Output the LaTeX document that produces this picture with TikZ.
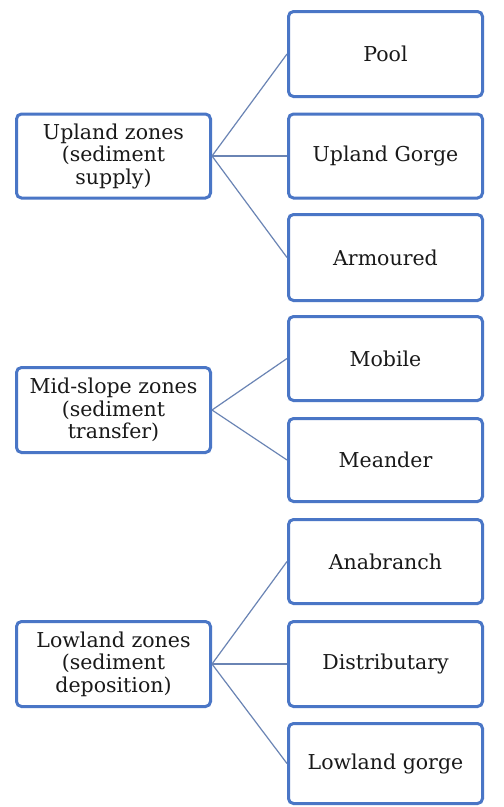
\documentclass[tikz,border=0pt]{standalone}
\usepackage{fontspec}
\setmainfont{DejaVu Serif}
\definecolor{boxblue}{HTML}{4A76C6}
\definecolor{linkblue}{HTML}{6A84B4}
\begin{document}
\begin{tikzpicture}[x=1pt,y=-1pt,
  zbox/.style={draw=boxblue, line width=3pt, rounded corners=5pt, fill=white,
    minimum width=194pt, align=center, inner sep=2pt,
    font=\fontsize{20.5}{22.5}\selectfont, text=black!90},
  link/.style={draw=linkblue, line width=1.2pt}]
\fill[white] (0,0) rectangle (504,807);
\useasboundingbox (0,0) rectangle (504,807);
% left boxes
\node[zbox, minimum height=84pt] (up) at (113.5,156) {Upland zones\\(sediment\\supply)};
\node[zbox, minimum height=85pt] (mid) at (113.5,410) {Mid-slope zones\\(sediment\\transfer)};
\node[zbox, minimum height=85pt] (low) at (113.5,664) {Lowland zones\\(sediment\\deposition)};
% right boxes
\node[zbox, minimum height=85pt] (pool) at (385.5,54) {Pool};
\node[zbox, minimum height=84pt] (gorge) at (385.5,156) {Upland Gorge};
\node[zbox, minimum height=86pt] (arm) at (385.5,257.5) {Armoured};
\node[zbox, minimum height=84pt] (mob) at (385.5,358.5) {Mobile};
\node[zbox, minimum height=83pt] (mea) at (385.5,460) {Meander};
\node[zbox, minimum height=84pt] (ana) at (385.5,561.5) {Anabranch};
\node[zbox, minimum height=85pt] (dis) at (385.5,664) {Distributary};
\node[zbox, minimum height=80pt] (lg) at (385.5,763.5) {Lowland gorge};
% connectors
\draw[link] (up.east) -- (pool.west);
\draw[link] (up.east) -- (gorge.west);
\draw[link] (up.east) -- (arm.west);
\draw[link] (mid.east) -- (mob.west);
\draw[link] (mid.east) -- (mea.west);
\draw[link] (low.east) -- (ana.west);
\draw[link] (low.east) -- (dis.west);
\draw[link] (low.east) -- (lg.west);
\end{tikzpicture}
\end{document}
